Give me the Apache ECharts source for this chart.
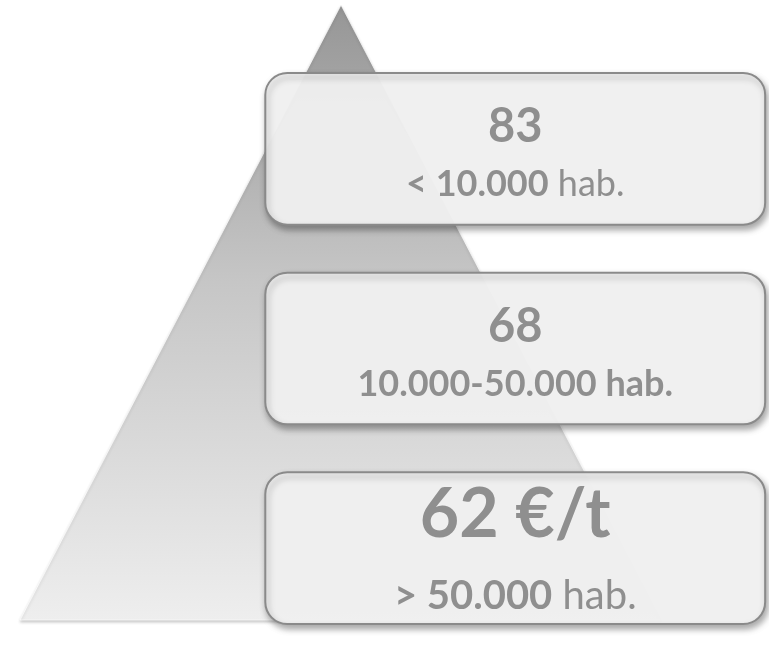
<!DOCTYPE html>
<html>
<head>
<meta charset="utf-8">
<script src="https://cdn.jsdelivr.net/npm/echarts@6/dist/echarts.min.js"></script>
<style>
  html, body { margin: 0; padding: 0; background: #ffffff; }
  #chart { width: 769px; height: 648px; }
</style>
</head>
<body>
<div id="chart"></div>
<script>
// tiers from top to bottom of the pyramid
var tiers = ['small', 'medium', 'large'];
var values = [83, 68, 62];
var valueUnits = ['', '', ' €/t'];
var rangeBold = ['< 10.000', '10.000-50.000 hab.', '> 50.000'];
var rangeRest = [' hab.', '', ' hab.'];

var chartDom = document.getElementById('chart');
var myChart = echarts.init(chartDom);

var textColor = '#8f8f8f';
var fontFam = 'Lato, "Open Sans", sans-serif';

function renderBox(params, api) {
    var i = api.value(0);
    var left = api.coord([34.5, i]);
    var right = api.coord([99.5, i]);
    var band = api.size([0, 1])[1];
    var h = band * 0.76;
    var cx = (left[0] + right[0]) / 2;
    var cy = left[1];
    var big = i === 2;
    return {
        type: 'group',
        children: [
            {
                type: 'rect',
                shape: { x: left[0], y: cy - h / 2, width: right[0] - left[0], height: h, r: 22 },
                style: {
                    fill: 'rgba(244,244,244,0.94)',
                    stroke: '#8a8a8a',
                    lineWidth: 2,
                    shadowBlur: 6,
                    shadowOffsetY: 4,
                    shadowOffsetX: 2,
                    shadowColor: 'rgba(0,0,0,0.35)'
                }
            },
            {
                type: 'text',
                x: cx,
                y: cy + (big ? -33 : -22),
                style: {
                    text: values[i] + valueUnits[i],
                    fill: textColor,
                    font: 'bold ' + (big ? 68 : 47) + 'px ' + fontFam,
                    align: 'center',
                    verticalAlign: 'middle'
                }
            },
            {
                type: 'text',
                x: cx,
                y: cy + (big ? 48 : 36),
                style: {
                    text: '{b|' + rangeBold[i] + '}' + (rangeRest[i] ? '{r|' + rangeRest[i] + '}' : ''),
                    align: 'center',
                    verticalAlign: 'middle',
                    rich: {
                        b: { fill: textColor, fontWeight: 'bold', fontSize: big ? 40 : 36, fontFamily: fontFam },
                        r: { fill: textColor, fontWeight: 'normal', fontSize: big ? 40 : 36, fontFamily: fontFam }
                    }
                }
            }
        ]
    };
}

var option = {
    backgroundColor: '#ffffff',
    animation: false,
    grid: { left: 0, right: 0, top: 49, height: 600 },
    xAxis: { type: 'value', min: 0, max: 100, show: false },
    yAxis: { type: 'category', data: tiers, inverse: true, show: false },
    series: [
        {
            type: 'funnel',
            sort: 'ascending',
            left: 20,
            top: 5,
            width: 642,
            height: 615,
            min: 0,
            max: 100,
            minSize: '0%',
            maxSize: '100%',
            gap: 0,
            z: 1,
            label: { show: false },
            labelLine: { show: false },
            silent: true,
            itemStyle: {
                borderColor: 'rgba(255,255,255,0.7)',
                borderWidth: 1,
                shadowBlur: 3,
                shadowOffsetY: 2,
                shadowColor: 'rgba(0,0,0,0.2)',
                color: new echarts.graphic.LinearGradient(0, 0, 0, 1, [
                    { offset: 0, color: '#969696' },
                    { offset: 0.45, color: '#c6c6c6' },
                    { offset: 1, color: '#eeeeee' }
                ])
            },
            data: [{ value: 100, name: 'pyramid' }]
        },
        {
            type: 'custom',
            z: 5,
            renderItem: renderBox,
            encode: { x: 1, y: 0 },
            data: tiers.map(function (t, i) { return [i, 50]; })
        }
    ]
};
option && myChart.setOption(option);
</script>
</body>
</html>
